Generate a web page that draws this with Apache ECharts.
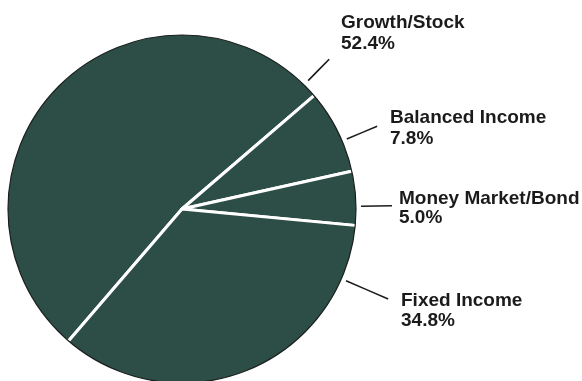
<!DOCTYPE html>
<html>
<head>
<meta charset="utf-8">
<script src="https://cdn.jsdelivr.net/npm/echarts@6/dist/echarts.min.js"></script>
<style>
  html, body { margin: 0; padding: 0; background: #ffffff; }
  #chart { width: 582px; height: 381px; }
</style>
</head>
<body>
<div id="chart"></div>
<script>
// Portfolio allocation by fund type (percent of total)
const categories = ['Growth/Stock', 'Balanced Income', 'Money Market/Bond', 'Fixed Income'];
const shares = [52.4, 7.8, 5.0, 34.8];

// Pie geometry (pixels)
const CX = 182, CY = 209, R = 174;
const FILL = '#2c4e46';
const INK = '#1b1b1b';

// Label placement: text box top-left and line spacing,
// leader line as polar (angle deg, inner r, outer r) around the pie centre
const labelBoxes = [
  { x: 341, y: 12, lh: 21 },
  { x: 390, y: 107, lh: 21 },
  { x: 399, y: 189, lh: 19 },
  { x: 401, y: 291, lh: 20 }
];
const leaders = [
  { a: 45.5, r0: 180, r1: 210 },
  { a: 23.0, r0: 179, r1: 212 },
  { a: 0.9,  r0: 179, r1: 210 },
  { a: -23.6, r0: 179, r1: 225 }
];

function polar(a, r) {
  const t = a * Math.PI / 180;
  return [CX + r * Math.cos(t), CY - r * Math.sin(t)];
}

const data = categories.map((name, i) => ({
  name,
  value: shares[i],
  label: { lineHeight: labelBoxes[i].lh }
}));

const chart = echarts.init(document.getElementById('chart'), null, { renderer: 'canvas' });
chart.setOption({
  animation: false,
  backgroundColor: '#ffffff',
  series: [
    {
      type: 'pie',
      z: 2,
      center: [CX, CY],
      radius: [0, R + 2],
      startAngle: 229.3,
      clockwise: true,
      avoidLabelOverlap: false,
      data: data,
      itemStyle: { color: FILL, borderColor: '#ffffff', borderWidth: 3 },
      emphasis: { disabled: true },
      label: {
        show: true,
        position: 'outside',
        formatter: p => p.name + '\n' + p.value.toFixed(1) + '%',
        fontFamily: '"Liberation Sans", Arial, sans-serif',
        fontWeight: 'bold',
        fontSize: 19,
        lineHeight: 21,
        color: INK
      },
      labelLine: { show: true, lineStyle: { color: INK, width: 1.6 } },
      labelLayout: function (params) {
        const i = params.dataIndex;
        const L = leaders[i];
        return {
          x: labelBoxes[i].x,
          y: labelBoxes[i].y,
          align: 'left',
          verticalAlign: 'top',
          labelLinePoints: [polar(L.a, L.r0), polar(L.a, (L.r0 + L.r1) / 2), polar(L.a, L.r1)]
        };
      }
    },
    {
      // white ring that trims the slice borders at the rim
      type: 'pie',
      z: 3,
      silent: true,
      center: [CX, CY],
      radius: [R, R + 4.5],
      label: { show: false },
      labelLine: { show: false },
      itemStyle: { color: '#ffffff' },
      emphasis: { disabled: true },
      data: [{ value: 1, name: '' }]
    },
    {
      // thin dark outline around the pie
      type: 'pie',
      z: 4,
      silent: true,
      center: [CX, CY],
      radius: [0, R],
      label: { show: false },
      labelLine: { show: false },
      itemStyle: { color: 'rgba(0,0,0,0)', borderColor: '#1a1f1d', borderWidth: 1.2 },
      emphasis: { disabled: true },
      data: [{ value: 1, name: '' }]
    }
  ]
});
</script>
</body>
</html>
